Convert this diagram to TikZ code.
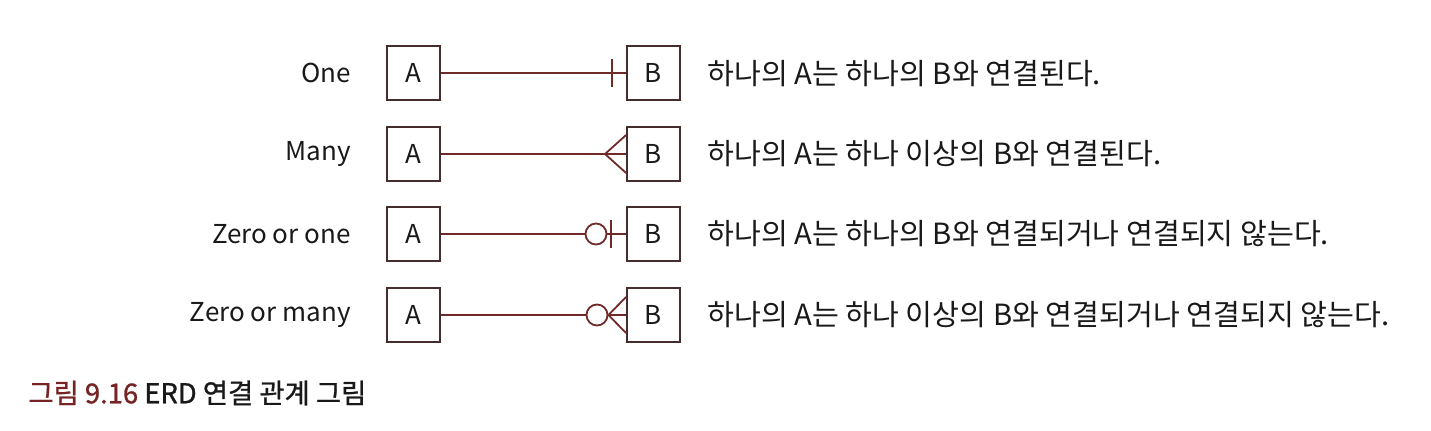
\documentclass[tikz,border=0pt]{standalone}
\usepackage{fontspec}
\setmainfont{Noto Sans CJK KR}
\newfontfamily\descfont{Noto Sans CJK KR}
\newfontfamily\capfont{Noto Sans CJK KR}[FakeBold=1.0]
\definecolor{linec}{RGB}{112,42,42}
\definecolor{boxc}{RGB}{70,45,45}
\definecolor{capc}{RGB}{120,35,35}
\definecolor{txtc}{RGB}{25,25,25}
\begin{document}
\begin{tikzpicture}[x=0.5pt,y=-0.5pt,
 ent/.style={draw=boxc,line width=0.9pt,minimum width=26.5pt,minimum height=27pt,inner sep=0pt,font=\fontsize{13}{15}\selectfont,text=txtc},
 rel/.style={draw=linec,line width=0.9pt},
 lbl/.style={anchor=east,inner sep=0pt,font=\fontsize{13}{15}\selectfont,text=txtc},
 desc/.style={anchor=west,inner sep=0pt,font=\descfont\fontsize{14.6}{17}\selectfont,text=txtc},
 captxt/.style={anchor=west,inner sep=0pt,font=\capfont\fontsize{13.7}{16}\selectfont,text=txtc},
 zc/.style={draw=linec,line width=0.9pt,fill=white,circle,minimum size=10.5pt,inner sep=0pt}]
\useasboundingbox (0,0) rectangle (1431,430);
% row 1: One
\node[lbl] (L1) at (351,73) {One};
\node[ent] (A1) at (413.5,73) {A};
\node[ent] (B1) at (653.5,73) {B};
\draw[rel] (A1.east) -- (B1.west);
\coordinate (b1) at (612,73);
\draw[rel] ([yshift=7pt]b1) -- ([yshift=-7pt]b1);
\node[desc] (D1) at (707,74) {하나의 A는 하나의 B와 연결된다.};
% row 2: Many
\node[lbl] (L2) at (351,154) {Many};
\node[ent] (A2) at (413.5,154) {A};
\node[ent] (B2) at (653.5,154) {B};
\coordinate (c2) at (605,154);
\draw[rel] (A2.east) -- (B2.west);
\draw[rel] ([yshift=9.5pt]B2.west) -- (c2) -- ([yshift=-9.5pt]B2.west);
\node[desc] (D2) at (707,154) {하나의 A는 하나 이상의 B와 연결된다.};
% row 3: Zero or one
\node[lbl] (L3) at (351,234) {Zero or one};
\node[ent] (A3) at (413.5,234) {A};
\node[ent] (B3) at (653.5,234) {B};
\draw[rel] (A3.east) -- (B3.west);
\node[zc] (o3) at (596,234) {};
\coordinate (b3) at (611,234);
\draw[rel] ([yshift=7pt]b3) -- ([yshift=-7pt]b3);
\node[desc] (D3) at (707,234) {하나의 A는 하나의 B와 연결되거나 연결되지 않는다.};
% row 4: Zero or many
\node[lbl] (L4) at (351,315) {Zero or many};
\node[ent] (A4) at (413.5,315) {A};
\node[ent] (B4) at (653.5,315) {B};
\draw[rel] (A4.east) -- (B4.west);
\node[zc] (o4) at (597,315) {};
\draw[rel] ([yshift=9pt]B4.west) -- (o4.east) -- ([yshift=-9pt]B4.west);
\node[desc] (D4) at (707,315) {하나의 A는 하나 이상의 B와 연결되거나 연결되지 않는다.};
% caption
\node[captxt] (cap) at (28,393) {{\color{capc}그림 9.16} ERD 연결 관계 그림};
\end{tikzpicture}
\end{document}
